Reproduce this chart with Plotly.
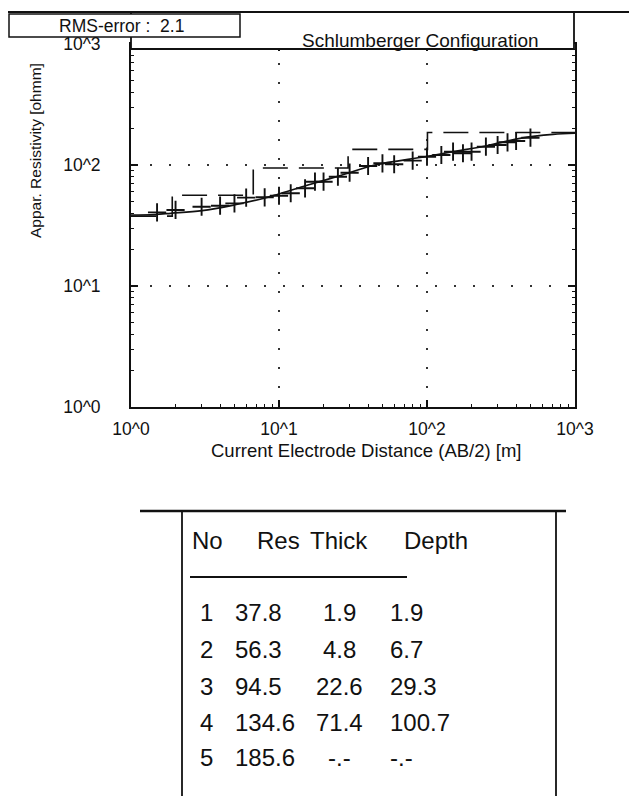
import plotly.graph_objects as go

# ---------------- data ----------------
ab2 = [1.5, 2, 3, 4, 5, 6, 8, 10, 12, 15, 17.5, 20, 25, 30, 40, 50, 60, 80,
       100, 125, 150, 175, 200, 250, 300, 350, 400, 500]
rho_obs = [40.6, 42.5, 45.2, 46.1, 48.2, 53.7, 54.1, 55.7, 58.4, 64.2, 72.8, 72.8,
           80.0, 86.4, 98.1, 103.3, 101.4, 108.6, 117.1, 121.0, 128.8, 125.0,
           128.8, 141.7, 146.3, 154.1, 157.9, 168.1]

fit_x = [1, 1.45, 1.86, 3.02, 4.97, 7.92, 9.84, 15.7, 26.7, 44.5, 96.9, 150,
         254, 425, 710, 1000]
fit_rho = [38.6, 39.0, 39.9, 41.9, 46.7, 53.1, 57.3, 68.4, 82.6, 100, 117,
           128.8, 144.3, 166.2, 179.4, 183]

layer_no = [1, 2, 3, 4, 5]
layer_res = [37.8, 56.3, 94.5, 134.6, 185.6]
layer_thick = [1.9, 4.8, 22.6, 71.4, None]
layer_depth = [1.9, 6.7, 29.3, 100.7, None]

x_tickvals = [1, 10, 100, 1000]
x_ticktext = ["10^0", "10^1", "10^2", "10^3"]
y_tickvals = [1, 10, 100, 1000]
y_ticktext = ["10^0", "10^1", "10^2", "10^3"]

rms_error = 2.1
title_text = "Schlumberger Configuration"
x_title = "Current Electrode Distance (AB/2) [m]"
y_title = "Appar. Resistivity [ohmm]"
table_header = ["No", "Res", "Thick", "Depth"]

# ---------------- layout helpers ----------------
OFF = 8                      # browser body margin
W, H = 637 - OFF, 796 - OFF  # figure size so that page = 637 x 796
# plot box in reference (page) pixels
RL, RR, RT, RB = 131, 575, 44, 407
L, R, T, B = RL - OFF, RR - OFF, RT - OFF, RB - OFF
FONT = "Liberation Sans, Arial, sans-serif"
INK = "#111111"


def px(x):
    """page pixel x -> paper coordinate"""
    return (x - OFF - L) / (R - L)


def py(y):
    """page pixel y -> paper coordinate"""
    return (B - (y - OFF)) / (B - T)


minor_vals = [m * 10 ** d for d in range(3) for m in range(2, 10)]

# model step line from the layer table
depths = [d for d in layer_depth if d is not None]
step_x = [1] + depths + [1000]
step_y = layer_res + [layer_res[-1]]

fig = go.Figure()
fig.add_trace(go.Scatter(x=step_x, y=step_y, mode="lines", line_shape="hv",
                         line=dict(color=INK, width=1.6, dash="25px,11px"),
                         showlegend=False))
fig.add_trace(go.Scatter(x=fit_x, y=fit_rho, mode="lines", line_shape="spline",
                         line=dict(color=INK, width=1.7), showlegend=False))
fig.add_trace(go.Scatter(x=ab2, y=rho_obs, mode="markers",
                         marker=dict(symbol="cross-thin", size=13,
                                     line=dict(color=INK, width=1.9)),
                         showlegend=False))

axis_common = dict(
    type="log", range=[0, 3], showline=True, linecolor=INK, linewidth=1.8,
    mirror="ticks", ticks="inside", ticklen=7, tickwidth=1.5, tickcolor=INK,
    showgrid=True, gridcolor="#333333", gridwidth=1.6, griddash="2px,17px",
    zeroline=False, tickfont=dict(family=FONT, size=17.5, color=INK),
    minor=dict(tickmode="array", tickvals=minor_vals, ticks="inside", ticklen=3,
               tickwidth=1.2, tickcolor=INK, showgrid=False),
)

fig.update_xaxes(**axis_common, tickmode="array", tickvals=x_tickvals,
                 ticktext=x_ticktext, ticklabelstandoff=5)
fig.update_yaxes(**axis_common, tickmode="array", tickvals=y_tickvals,
                 ticktext=y_ticktext, ticklabelstandoff=25)

shapes = []
ann = []

# header panel over the top of the plot
shapes.append(dict(type="rect", xref="paper", yref="paper",
                   x0=px(RL), x1=px(574), y0=py(49), y1=py(12),
                   fillcolor="white", line=dict(color=INK, width=1.8), layer="above"))
shapes.append(dict(type="line", xref="paper", yref="paper",
                   x0=px(8), x1=px(637), y0=py(12), y1=py(12),
                   line=dict(color=INK, width=2.2), layer="above"))
# RMS box
shapes.append(dict(type="rect", xref="paper", yref="paper",
                   x0=px(9), x1=px(240), y0=py(37), y1=py(14),
                   fillcolor="white", line=dict(color=INK, width=1.5), layer="above"))
ann.append(dict(xref="paper", yref="paper", x=px(121), y=py(26),
                text=f"RMS-error :  {rms_error}", showarrow=False,
                xanchor="center", yanchor="middle",
                font=dict(family=FONT, size=17.5, color=INK)))
ann.append(dict(xref="paper", yref="paper", x=px(420), y=py(40),
                text=title_text, showarrow=False, xanchor="center", yanchor="middle",
                font=dict(family=FONT, size=19, color=INK)))
# axis titles
ann.append(dict(xref="paper", yref="paper", x=px(366), y=py(450),
                text=x_title, showarrow=False, xanchor="center", yanchor="middle",
                font=dict(family=FONT, size=18.5, color=INK)))
ann.append(dict(xref="paper", yref="paper", x=px(35), y=py(151),
                text=y_title, showarrow=False, xanchor="center", yanchor="middle",
                textangle=-90, font=dict(family=FONT, size=15.5, color=INK)))

# ---------------- layer table ----------------
shapes.append(dict(type="line", xref="paper", yref="paper",
                   x0=px(140), x1=px(566), y0=py(511), y1=py(511),
                   line=dict(color=INK, width=2.6), layer="above"))
shapes.append(dict(type="line", xref="paper", yref="paper",
                   x0=px(182), x1=px(182), y0=py(511), y1=py(800),
                   line=dict(color=INK, width=1.8), layer="above"))
shapes.append(dict(type="line", xref="paper", yref="paper",
                   x0=px(556), x1=px(556), y0=py(511), y1=py(800),
                   line=dict(color=INK, width=1.8), layer="above"))
shapes.append(dict(type="line", xref="paper", yref="paper",
                   x0=px(190), x1=px(407), y0=py(577), y1=py(577),
                   line=dict(color=INK, width=2.2), layer="above"))

tfont = dict(family=FONT, size=24, color=INK)
header_pos = [(190, "left"), (255, "left"), (308, "left"), (402, "left")]
for (hx, anc), txt in zip(header_pos, table_header):
    ann.append(dict(xref="paper", yref="paper", x=px(hx), y=py(540), text=txt,
                    showarrow=False, xanchor=anc, yanchor="middle", font=tfont))

row_y = [612, 649, 686, 722.5, 757]


def fmt(v):
    return "-.-" if v is None else f"{v}"


for i, yy in enumerate(row_y):
    ann.append(dict(xref="paper", yref="paper", x=px(206), y=py(yy),
                    text=str(layer_no[i]), showarrow=False, xanchor="center",
                    yanchor="middle", font=tfont))
    ann.append(dict(xref="paper", yref="paper", x=px(233), y=py(yy),
                    text=fmt(layer_res[i]), showarrow=False, xanchor="left",
                    yanchor="middle", font=tfont))
    ann.append(dict(xref="paper", yref="paper", x=px(339), y=py(yy),
                    text=fmt(layer_thick[i]), showarrow=False, xanchor="center",
                    yanchor="middle", font=tfont))
    ann.append(dict(xref="paper", yref="paper", x=px(388), y=py(yy),
                    text=fmt(layer_depth[i]), showarrow=False, xanchor="left",
                    yanchor="middle", font=tfont))

fig.update_layout(
    width=W, height=H, autosize=False,
    margin=dict(l=L, r=W - R, t=T, b=H - B, pad=0),
    paper_bgcolor="white", plot_bgcolor="white",
    shapes=shapes, annotations=ann, showlegend=False,
    font=dict(family=FONT, color=INK),
)

fig.write_html("out.html")
